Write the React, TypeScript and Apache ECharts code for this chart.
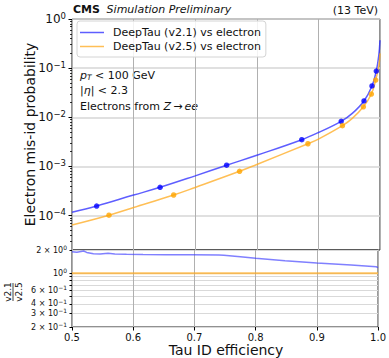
import React, { useEffect, useRef } from "react";
import * as echarts from "echarts";

// Mis-id rate vs. tau ID efficiency, curves for both DeepTau versions
const v21Eff = [0.5, 0.54, 0.6, 0.643, 0.7, 0.751, 0.8, 0.873, 0.9, 0.937, 0.955, 0.974, 0.987, 0.994, 0.998, 1.0];
const v21Rate = [1.17e-4, 1.57e-4, 2.62e-4, 3.77e-4, 6.45e-4, 1.06e-3, 1.69e-3, 3.51e-3, 4.9e-3, 8.3e-3, 1.2e-2, 2.15e-2, 4.34e-2, 8.75e-2, 0.18, 0.37];
const v25Eff = [0.5, 0.56, 0.6, 0.665, 0.7, 0.772, 0.8, 0.883, 0.9, 0.939, 0.955, 0.973, 0.986, 0.993, 0.998, 1.0];
const v25Rate = [6.45e-5, 1.02e-4, 1.46e-4, 2.63e-4, 3.75e-4, 7.98e-4, 1.1e-3, 2.9e-3, 3.6e-3, 6.76e-3, 9.5e-3, 1.64e-2, 2.98e-2, 5.74e-2, 0.11, 0.2];

// Working points
const v21MarkEff = [0.54, 0.643, 0.751, 0.873, 0.937, 0.974, 0.987, 0.994];
const v21MarkRate = [1.57e-4, 3.77e-4, 1.06e-3, 3.51e-3, 8.3e-3, 2.15e-2, 4.34e-2, 8.75e-2];
const v25MarkEff = [0.56, 0.665, 0.772, 0.883, 0.939, 0.973, 0.986, 0.993];
const v25MarkRate = [1.02e-4, 2.63e-4, 7.98e-4, 2.9e-3, 6.76e-3, 1.64e-2, 2.98e-2, 5.74e-2];

// Ratio v2.1 / v2.5
const ratioEff = [0.5, 0.508, 0.519, 0.524, 0.535, 0.546, 0.559, 0.57, 0.589, 0.616, 0.654, 0.697, 0.74, 0.748, 0.775, 0.8, 0.848, 0.9, 0.956, 0.997, 1.0];
const ratioV21 = [1.9, 1.87, 1.94, 1.86, 1.79, 1.77, 1.81, 1.78, 1.76, 1.75, 1.74, 1.74, 1.72, 1.71, 1.64, 1.56, 1.45, 1.36, 1.28, 1.21, 1.18];
const ratioRefEff = [0.5, 1.0];
const ratioV25 = [1, 1];

// Axis ticks
const rateMajorTicks = [1e-4, 1e-3, 1e-2, 1e-1, 1];
const rateMinorTicks: number[] = [];
for (const dec of [1e-5, 1e-4, 1e-3, 1e-2, 1e-1]) {
  for (const m of [2, 3, 4, 5, 6, 7, 8, 9]) rateMinorTicks.push(+(m * dec).toPrecision(3));
}
const ratioTicks = [0.2, 0.3, 0.4, 0.5, 0.6, 0.7, 0.8, 0.9, 1, 2];
const ratioLabelTicks = [0.2, 0.3, 0.4, 0.6, 1, 2];
const effTicks = { min: 0.5, max: 1.0, interval: 0.1 };

const FONT = "DejaVu Sans";
const BLUE_LINE = "rgba(40,40,255,0.75)";
const ORANGE_LINE = "rgba(255,170,30,0.75)";

function sciLabel(v: number): string {
  const e = Math.floor(Math.log10(v) + 1e-9);
  const m = Math.round((v / Math.pow(10, e)) * 100) / 100;
  const exp = e < 0 ? "\u2212" + -e : String(e);
  if (Math.abs(m - 1) < 1e-6) return `{b|10}{s|${exp}}`;
  return `{b|${m} \u00d7 10}{s|${exp}}`;
}

function pairs(xs: number[], ys: number[]) {
  return xs.map((x, i) => [x, ys[i]]);
}

export default function App() {
  const ref = useRef<HTMLDivElement>(null);

  useEffect(() => {
    if (!ref.current) return;
    const chart = echarts.init(ref.current, null, { renderer: "svg" });

    const textBase = { fontFamily: FONT, color: "#111" };

    chart.setOption({
      animation: false,
      backgroundColor: "#fff",
      grid: [
        { left: 72, top: 19, width: 308, height: 231, show: true, borderColor: "#222", borderWidth: 1, backgroundColor: "transparent" },
        { left: 72, top: 250, width: 308, height: 77, show: true, borderColor: "#222", borderWidth: 1, backgroundColor: "transparent" },
      ],
      xAxis: [
        {
          gridIndex: 0, type: "value", ...effTicks,
          axisLabel: { show: false }, axisTick: { show: false }, axisLine: { show: false },
          splitLine: { show: true, lineStyle: { color: "#b0b0b0", width: 1 } },
        },
        {
          gridIndex: 1, type: "value", ...effTicks,
          axisLine: { show: false },
          axisTick: { show: true, length: 3.5, lineStyle: { color: "#000" } },
          axisLabel: { fontSize: 10, margin: 5, ...textBase, formatter: (v: number) => v.toFixed(1) },
          splitLine: { show: true, lineStyle: { color: "#b0b0b0", width: 1 } },
        },
      ],
      yAxis: [
        {
          gridIndex: 0, type: "log", logBase: 10, min: 2e-5, max: 1, position: "left",
          axisLine: { show: false },
          axisTick: { show: true, length: 3.5, customValues: rateMajorTicks, lineStyle: { color: "#000" } },
          axisLabel: {
            customValues: rateMajorTicks, margin: 6, formatter: sciLabel,
            rich: {
              b: { fontSize: 12, fontFamily: FONT, color: "#111" },
              s: { fontSize: 8.5, fontFamily: FONT, color: "#111", verticalAlign: "top", padding: [0, 0, 7, 0] },
            },
          },
          splitLine: { show: true, lineStyle: { color: "#d6d6d6", width: 1.5 } },
        },
        {
          gridIndex: 1, type: "log", logBase: 10, min: 0.2, max: 2, position: "left",
          axisLine: { show: false },
          axisTick: { show: true, length: 2.5, customValues: ratioTicks, lineStyle: { color: "#000" } },
          axisLabel: {
            customValues: ratioLabelTicks, margin: 5, formatter: sciLabel,
            rich: {
              b: { fontSize: 8, fontFamily: FONT, color: "#111" },
              s: { fontSize: 6, fontFamily: FONT, color: "#111", verticalAlign: "top", padding: [0, 0, 5, 0] },
            },
          },
          splitLine: { show: true, lineStyle: { color: "#d9d9d9", width: 1.2 } },
        },
        {
          // minor ticks of the rate axis
          gridIndex: 0, type: "log", logBase: 10, min: 2e-5, max: 1, position: "left",
          axisLine: { show: false },
          axisLabel: { show: false },
          axisTick: { show: true, length: 2, customValues: rateMinorTicks, lineStyle: { color: "#000", width: 0.8 } },
          splitLine: { show: false },
        },
      ],
      legend: {
        orient: "vertical",
        left: 77, top: 21,
        padding: [6, 5, 5, 3],
        itemGap: 3,
        itemWidth: 24, itemHeight: 1.5,
        icon: "rect",
        backgroundColor: "rgba(255,255,255,0.85)",
        borderColor: "#d4d4d4", borderWidth: 1, borderRadius: 3,
        textStyle: { fontSize: 11, fontFamily: FONT, color: "#111", padding: [0, 0, 0, 4] },
        data: ["DeepTau (v2.1) vs electron", "DeepTau (v2.5) vs electron"],
      },
      series: [
        {
          name: "DeepTau (v2.1) vs electron", type: "line", xAxisIndex: 0, yAxisIndex: 0,
          data: pairs(v21Eff, v21Rate), showSymbol: false, smooth: 0.4,
          lineStyle: { color: BLUE_LINE, width: 1.5 }, itemStyle: { color: BLUE_LINE }, z: 3,
        },
        {
          name: "DeepTau (v2.5) vs electron", type: "line", xAxisIndex: 0, yAxisIndex: 0,
          data: pairs(v25Eff, v25Rate), showSymbol: false, smooth: 0.4,
          lineStyle: { color: ORANGE_LINE, width: 1.5 }, itemStyle: { color: ORANGE_LINE }, z: 3,
        },
        {
          name: "v2.1 points", type: "scatter", xAxisIndex: 0, yAxisIndex: 0,
          data: pairs(v21MarkEff, v21MarkRate), symbolSize: 5.5, itemStyle: { color: "#0000ff" }, z: 4,
        },
        {
          name: "v2.5 points", type: "scatter", xAxisIndex: 0, yAxisIndex: 0,
          data: pairs(v25MarkEff, v25MarkRate), symbolSize: 5.5, itemStyle: { color: "#ffa500" }, z: 4,
        },
        {
          name: "ratio v2.1", type: "line", xAxisIndex: 1, yAxisIndex: 1,
          data: pairs(ratioEff, ratioV21), showSymbol: false,
          lineStyle: { color: "rgba(60,60,255,0.65)", width: 1.5 }, z: 3,
        },
        {
          name: "ratio v2.5", type: "line", xAxisIndex: 1, yAxisIndex: 1,
          data: pairs(ratioRefEff, ratioV25), showSymbol: false,
          lineStyle: { color: "rgba(255,170,30,0.7)", width: 2 }, z: 3,
        },
      ],
      graphic: [
        {
          type: "text", left: 73, top: 3,
          style: {
            text: "{b|CMS}  {i|Simulation Preliminary}",
            rich: {
              b: { fontSize: 11, fontWeight: "bold", fontFamily: FONT, fill: "#111" },
              i: { fontSize: 11, fontStyle: "italic", fontFamily: FONT, fill: "#111" },
            },
          },
        },
        {
          type: "text", x: 378, y: 10,
          style: { text: "(13 TeV)", fontSize: 11, fontFamily: FONT, fill: "#111", align: "right", verticalAlign: "middle" },
        },
        {
          type: "text", x: 80, y: 75,
          style: {
            text: "{i|p}{sub|T}{n| < 100 GeV}", verticalAlign: "middle",
            rich: {
              i: { fontSize: 11, fontStyle: "italic", fontFamily: FONT, fill: "#111" },
              sub: { fontSize: 7.5, fontStyle: "italic", fontFamily: FONT, fill: "#111", verticalAlign: "bottom", padding: [5, 0, 0, 0] },
              n: { fontSize: 11, fontFamily: FONT, fill: "#111" },
            },
          },
        },
        {
          type: "text", x: 80, y: 90,
          style: {
            text: "{n||}{i|\u03b7}{n|| < 2.3}", verticalAlign: "middle",
            rich: {
              i: { fontSize: 11, fontStyle: "italic", fontFamily: FONT, fill: "#111" },
              n: { fontSize: 11, fontFamily: FONT, fill: "#111" },
            },
          },
        },
        {
          type: "text", x: 80, y: 106,
          style: {
            text: "{n|Electrons from }{i|Z}{n|\u2009\u2192\u2009}{i|ee}", verticalAlign: "middle",
            rich: {
              i: { fontSize: 11, fontStyle: "italic", fontFamily: FONT, fill: "#111" },
              n: { fontSize: 11, fontFamily: FONT, fill: "#111" },
            },
          },
        },
        {
          type: "text", x: 30, y: 134.5, rotation: Math.PI / 2,
          style: { text: "Electron mis-id probability", fontSize: 14, fontFamily: FONT, fill: "#111", align: "center", verticalAlign: "middle" },
        },
        {
          type: "group", x: 13, y: 292, rotation: Math.PI / 2,
          children: [
            { type: "text", x: 0, y: -1, style: { text: "v2.1", fontSize: 9, fontFamily: FONT, fill: "#111", align: "center", verticalAlign: "bottom" } },
            { type: "line", shape: { x1: -9, y1: 0, x2: 9, y2: 0 }, style: { stroke: "#111", lineWidth: 0.8 } },
            { type: "text", x: 0, y: 1, style: { text: "v2.5", fontSize: 9, fontFamily: FONT, fill: "#111", align: "center", verticalAlign: "top" } },
          ],
        },
        {
          type: "text", x: 226, y: 350,
          style: { text: "Tau ID efficiency", fontSize: 14, fontFamily: FONT, fill: "#111", align: "center", verticalAlign: "middle" },
        },
      ],
    });

    return () => chart.dispose();
  }, []);

  return <div ref={ref} style={{ position: "fixed", left: 0, top: 0, width: 389, height: 358 }} />;
}
